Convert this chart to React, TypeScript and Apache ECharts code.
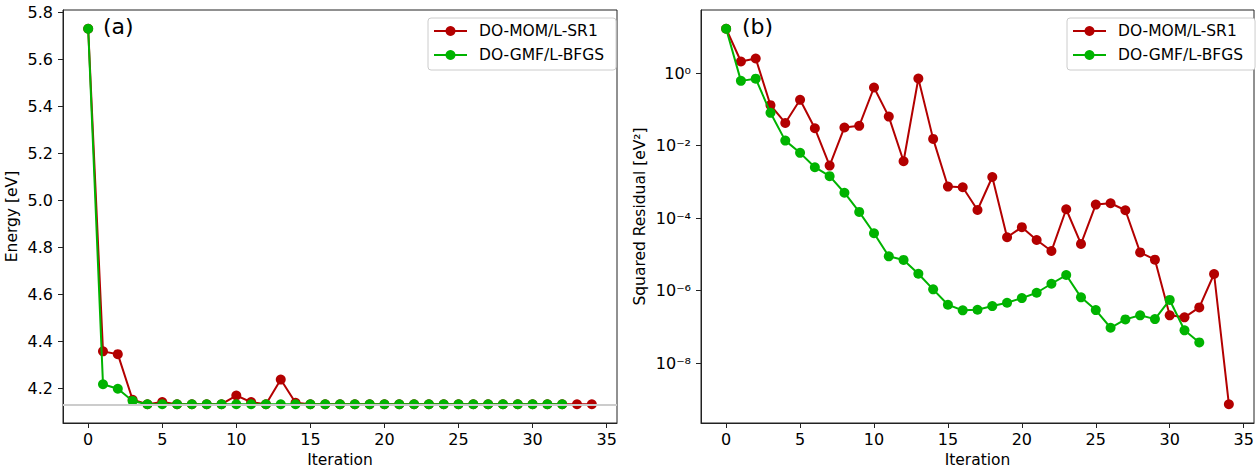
import React, { useEffect, useRef } from 'react';
import * as echarts from 'echarts';

// ---- data ----
const seriesNames = ['DO-MOM/L-SR1', 'DO-GMF/L-BFGS'];
const seriesColors = ['#b30000', '#00b300'];

// panel (a): energy per iteration
const energyMOM = [
  5.729, 4.356, 4.344, 4.15, 4.131, 4.14, 4.131, 4.131, 4.131, 4.131,
  4.168, 4.14, 4.131, 4.236, 4.137, 4.131, 4.131, 4.131, 4.131, 4.131,
  4.131, 4.131, 4.131, 4.131, 4.131, 4.131, 4.131, 4.131, 4.131, 4.131,
  4.131, 4.131, 4.131, 4.131, 4.131,
];
const energyGMF = [
  5.729, 4.216, 4.197, 4.145, 4.131, 4.131, 4.131, 4.131, 4.131, 4.131,
  4.131, 4.131, 4.131, 4.131, 4.131, 4.131, 4.131, 4.131, 4.131, 4.131,
  4.131, 4.131, 4.131, 4.131, 4.131, 4.131, 4.131, 4.131, 4.131, 4.131,
  4.131, 4.131, 4.131,
];
const energyReference = 4.13;

// panel (b): squared residual per iteration
const residualMOM = [
  16.7, 2.09, 2.53, 0.13, 0.042, 0.183, 0.03, 0.0028, 0.0316, 0.035,
  0.4, 0.063, 0.0037, 0.71, 0.0153, 7.4e-4, 7.1e-4, 1.67e-4, 1.36e-3, 2.95e-5,
  5.6e-5, 2.48e-5, 1.23e-5, 1.75e-4, 1.93e-5, 2.35e-4, 2.56e-4, 1.64e-4, 1.13e-5, 7.1e-6,
  2.07e-7, 1.82e-7, 3.43e-7, 2.86e-6, 7.3e-10,
];
const residualGMF = [
  16.7, 0.61, 0.7, 0.08, 0.0137, 0.0063, 0.00253, 0.00143, 5.0e-4, 1.48e-4,
  3.8e-5, 8.8e-6, 7.0e-6, 2.9e-6, 1.08e-6, 4.05e-7, 2.84e-7, 2.95e-7, 3.73e-7, 4.6e-7,
  6.2e-7, 8.7e-7, 1.54e-6, 2.68e-6, 6.5e-7, 2.89e-7, 9.4e-8, 1.6e-7, 2.07e-7, 1.63e-7,
  5.5e-7, 8.0e-8, 3.7e-8,
];
const residualThreshold = 3.8e-8;

const iterationTicks = [0, 5, 10, 15, 20, 25, 30, 35];
const energyTicks = [4.2, 4.4, 4.6, 4.8, 5.0, 5.2, 5.4, 5.6, 5.8];
const residualTicks = [1e-8, 1e-6, 1e-4, 1e-2, 1];
const panelLabels = ['(a)', '(b)'];
const xAxisTitle = 'Iteration';
const energyAxisTitle = 'Energy [eV]';
const residualAxisTitle = 'Squared Residual [eV\u00b2]';

// ---- helpers ----
const FONT = 'DejaVu Sans';
const INK = '#222';

const toPairs = (vals: number[]) => vals.map((v, i) => [i, v]);

const SUP: Record<string, string> = {
  '0': '\u2070', '1': '\u00b9', '2': '\u00b2', '3': '\u00b3', '4': '\u2074',
  '5': '\u2075', '6': '\u2076', '7': '\u2077', '8': '\u2078', '9': '\u2079', '-': '\u207b',
};
const powLabel = (v: number) => {
  const e = Math.round(Math.log10(v));
  return '10' + String(e).split('').map((c) => SUP[c] || c).join('');
};

function linearPad(vals: number[]) {
  const lo = Math.min(...vals);
  const hi = Math.max(...vals);
  const p = (hi - lo) * 0.05;
  return [lo - p, hi + p];
}
function logPad(vals: number[]) {
  const l = vals.map((v) => Math.log10(v));
  const lo = Math.min(...l);
  const hi = Math.max(...l);
  const p = (hi - lo) * 0.05;
  return [Math.pow(10, lo - p), Math.pow(10, hi + p)];
}

export default function App() {
  const ref = useRef<HTMLDivElement>(null);

  useEffect(() => {
    document.body.style.margin = '0';
    if (!ref.current) return;
    const chart = echarts.init(ref.current, undefined, { renderer: 'svg' });

    const nIter = Math.max(energyMOM.length, energyGMF.length) - 1;
    const xPad = nIter * 0.05;
    const [eMin, eMax] = linearPad([...energyMOM, ...energyGMF]);
    const [rMin, rMax] = logPad([...residualMOM, ...residualGMF]);

    const tickText = { fontFamily: FONT, fontSize: 16, color: '#000' };
    const nameText = { fontFamily: FONT, fontSize: 15.5, color: '#000' };

    const xAxisCommon = (gridIndex: number) => ({
      type: 'value',
      gridIndex,
      min: -xPad,
      max: nIter + xPad,
      name: xAxisTitle,
      nameLocation: 'middle',
      nameGap: 29,
      nameTextStyle: { ...nameText },
      axisLine: { show: true, onZero: false, lineStyle: { color: INK, width: 1 } },
      axisTick: { show: true, length: 5, lineStyle: { color: INK, width: 1 }, customValues: iterationTicks },
      axisLabel: { ...tickText, margin: 8, customValues: iterationTicks },
      splitLine: { show: false },
    });

    const lineSeries = (name: string, color: string, data: number[][], idx: number, z: number) => ({
      name,
      type: 'line',
      xAxisIndex: idx,
      yAxisIndex: idx,
      data,
      z,
      symbol: 'circle',
      symbolSize: 10,
      showSymbol: true,
      showAllSymbol: true,
      color,
      itemStyle: { color },
      lineStyle: { color, width: 2 },
      emphasis: { disabled: true },
    });

    const refSeries = (idx: number, value: number) => ({
      type: 'line',
      xAxisIndex: idx,
      yAxisIndex: idx,
      data: [],
      z: 1,
      silent: true,
      markLine: {
        silent: true,
        symbol: 'none',
        label: { show: false },
        lineStyle: { color: '#cccccc', width: 2, type: 'solid' },
        emphasis: { disabled: true },
        data: [{ yAxis: value }],
      },
    });

    const legendCommon = {
      orient: 'vertical',
      top: 18,
      data: seriesNames,
      backgroundColor: '#fff',
      borderColor: '#cccccc',
      borderWidth: 1,
      borderRadius: 3,
      padding: [5, 12, 7, 5],
      itemWidth: 33,
      itemHeight: 12.5,
      itemGap: 8,
      selectedMode: false,
      textStyle: { ...nameText, padding: [0, 0, 0, 7] },
    };

    const gridCommon = {
      top: 10,
      height: 413,
      show: true,
      borderColor: INK,
      borderWidth: 1,
      backgroundColor: 'transparent',
      containLabel: false,
      outerBoundsMode: 'none',
    };

    chart.setOption({
      animation: false,
      backgroundColor: '#fff',
      textStyle: { fontFamily: FONT },
      grid: [
        { ...gridCommon, left: 63, width: 554 },
        { ...gridCommon, left: 701, width: 553 },
      ],
      xAxis: [xAxisCommon(0), xAxisCommon(1)],
      yAxis: [
        {
          type: 'value',
          gridIndex: 0,
          min: eMin,
          max: eMax,
          name: energyAxisTitle,
          nameLocation: 'middle',
          nameGap: 43,
          nameTextStyle: { ...nameText },
          axisLine: { show: true, onZero: false, lineStyle: { color: INK, width: 1 } },
          axisTick: { show: true, length: 5, lineStyle: { color: INK, width: 1 }, customValues: energyTicks },
          axisLabel: { ...tickText, margin: 10, customValues: energyTicks, formatter: (v: number) => v.toFixed(1) },
          splitLine: { show: false },
        },
        {
          type: 'log',
          logBase: 10,
          gridIndex: 1,
          min: rMin,
          max: rMax,
          name: residualAxisTitle,
          nameLocation: 'middle',
          nameGap: 53,
          nameTextStyle: { ...nameText },
          axisLine: { show: true, onZero: false, lineStyle: { color: INK, width: 1 } },
          axisTick: { show: true, length: 5, lineStyle: { color: INK, width: 1 }, customValues: residualTicks },
          axisLabel: { ...tickText, margin: 10, customValues: residualTicks, formatter: (v: number) => powLabel(v) },
          splitLine: { show: false },
          minorTick: { show: false },
        },
      ],
      legend: [
        { ...legendCommon, left: 428 },
        { ...legendCommon, left: 1067 },
      ],
      graphic: [
        { type: 'text', left: 103, top: 15, style: { text: panelLabels[0], fontFamily: FONT, fontSize: 22, fill: '#000' } },
        { type: 'text', left: 742, top: 15, style: { text: panelLabels[1], fontFamily: FONT, fontSize: 22, fill: '#000' } },
      ],
      series: [
        refSeries(0, energyReference),
        lineSeries(seriesNames[0], seriesColors[0], toPairs(energyMOM), 0, 2),
        lineSeries(seriesNames[1], seriesColors[1], toPairs(energyGMF), 0, 3),
        refSeries(1, residualThreshold),
        lineSeries(seriesNames[0], seriesColors[0], toPairs(residualMOM), 1, 2),
        lineSeries(seriesNames[1], seriesColors[1], toPairs(residualGMF), 1, 3),
      ],
    });

    return () => chart.dispose();
  }, []);

  return <div ref={ref} style={{ width: 1256, height: 468 }} />;
}
